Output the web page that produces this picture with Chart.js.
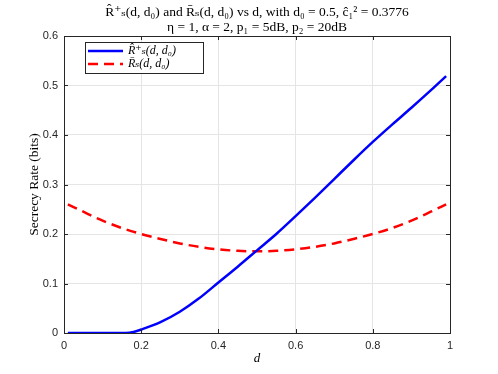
<!DOCTYPE html>
<html>
<head>
<meta charset="utf-8">
<script src="https://cdn.jsdelivr.net/npm/chart.js@4/dist/chart.umd.min.js"></script>
<style>
html,body{margin:0;padding:0;background:#fff;}
#c{display:block;}
</style>
</head>
<body>
<canvas id="c" width="498" height="374"></canvas>
<script>
const titleLines = ["R̂⁺ₛ(d, d₀) and R̄ₛ(d, d₀) vs d, with d₀ = 0.5, ĉ₁² = 0.3776", "η = 1, α = 2, p₁ = 5dB, p₂ = 20dB"];
const xTitle = "d";
const yTitle = "Secrecy Rate (bits)";
const seriesNames = ["R̂⁺ₛ(d, d₀)", "R̄ₛ(d, d₀)"];
const xTicks = [0, 0.2, 0.4, 0.6, 0.8, 1];
const yTicks = [0, 0.1, 0.2, 0.3, 0.4, 0.5, 0.6];

const dBlue = [0.01, 0.05, 0.1, 0.15, 0.16, 0.18, 0.2, 0.25, 0.3, 0.35, 0.4, 0.45, 0.5, 0.55, 0.6, 0.65, 0.7, 0.75, 0.8, 0.85, 0.9, 0.95, 0.99];
const rHatPlus = [0, 0, 0, 0, 0, 0.002, 0.007, 0.022, 0.043, 0.07, 0.102, 0.134, 0.167, 0.2, 0.236, 0.273, 0.311, 0.349, 0.386, 0.421, 0.455, 0.49, 0.519];
const dRed = [0.01, 0.05, 0.1, 0.15, 0.2, 0.25, 0.3, 0.35, 0.4, 0.45, 0.5, 0.55, 0.6, 0.65, 0.7, 0.75, 0.8, 0.85, 0.9, 0.95, 0.99];
const rBar = [0.26, 0.245, 0.227, 0.212, 0.2, 0.19, 0.181, 0.174, 0.169, 0.166, 0.165, 0.166, 0.169, 0.174, 0.181, 0.19, 0.2, 0.212, 0.227, 0.245, 0.26];

const axisColor = '#262626';
const serif = '"Liberation Serif", "DejaVu Serif", serif';
const sans = '"Liberation Sans", Arial, sans-serif';
const fmt = v => String(Math.round(v * 10) / 10);

const framePlugin = {
  id: 'frame',
  afterDraw(chart) {
    const ctx = chart.ctx, a = chart.chartArea;
    const xs = chart.scales.x, ys = chart.scales.y;
    ctx.save();
    ctx.strokeStyle = axisColor; ctx.lineWidth = 1;
    ctx.strokeRect(Math.round(a.left) + 0.5, Math.round(a.top) + 0.5, Math.round(a.right - a.left), Math.round(a.bottom - a.top));
    ctx.beginPath();
    xTicks.forEach(v => {
      const px = Math.round(xs.getPixelForValue(v)) + 0.5;
      ctx.moveTo(px, a.bottom); ctx.lineTo(px, a.bottom - 4);
      ctx.moveTo(px, a.top); ctx.lineTo(px, a.top + 4);
    });
    yTicks.forEach(v => {
      const py = Math.round(ys.getPixelForValue(v)) + 0.5;
      ctx.moveTo(a.left, py); ctx.lineTo(a.left + 4, py);
      ctx.moveTo(a.right, py); ctx.lineTo(a.right - 4, py);
    });
    ctx.stroke();
    // title
    ctx.fillStyle = '#000';
    ctx.textAlign = 'center'; ctx.textBaseline = 'middle';
    ctx.font = '13.5px ' + serif;
    const cx = (a.left + a.right) / 2;
    ctx.fillText(titleLines[0], cx, 12);
    ctx.fillText(titleLines[1], cx, 27);
    // legend
    const lx = a.left + 21, ly = a.top + 6, lw = 118, lh = 31;
    ctx.fillStyle = '#fff';
    ctx.fillRect(lx, ly, lw, lh);
    ctx.strokeStyle = axisColor; ctx.lineWidth = 1;
    ctx.strokeRect(lx + 0.5, ly + 0.5, lw, lh);
    chart.data.datasets.forEach((ds, i) => {
      const yy = ly + 9 + i * 13;
      ctx.beginPath();
      ctx.strokeStyle = ds.borderColor; ctx.lineWidth = ds.borderWidth;
      ctx.setLineDash(ds.borderDash || []);
      ctx.moveTo(lx + 3, yy); ctx.lineTo(lx + 38, yy);
      ctx.stroke();
      ctx.setLineDash([]);
      ctx.fillStyle = '#000'; ctx.textAlign = 'left';
      ctx.font = 'italic 12px ' + serif;
      ctx.fillText(ds.label, lx + 43, yy);
    });
    ctx.restore();
  }
};

new Chart(document.getElementById('c'), {
  type: 'line',
  data: {
    datasets: [
      { label: seriesNames[0], data: dBlue.map((d, i) => ({x: d, y: rHatPlus[i]})),
        borderColor: '#0000ff', borderWidth: 2.5, pointRadius: 0, fill: false, cubicInterpolationMode: 'monotone' },
      { label: seriesNames[1], data: dRed.map((d, i) => ({x: d, y: rBar[i]})),
        borderColor: '#ff0000', borderWidth: 2.5, borderDash: [10, 6], pointRadius: 0, fill: false, cubicInterpolationMode: 'monotone' }
    ]
  },
  options: {
    responsive: false,
    animation: false,
    layout: { padding: { left: 26, right: 48, top: 36, bottom: 0 } },
    plugins: { legend: { display: false }, title: { display: false }, tooltip: { enabled: false } },
    scales: {
      x: {
        type: 'linear', min: 0, max: 1,
        afterBuildTicks: s => { s.ticks = xTicks.map(v => ({value: v})); },
        afterFit: s => { s.height = 41; },
        grid: { color: '#e5e5e5', drawTicks: false },
        border: { display: false },
        ticks: { color: axisColor, font: { family: sans, size: 11 }, padding: 6, maxRotation: 0, callback: fmt },
        title: { display: true, text: xTitle, color: '#000', font: { family: serif, size: 13, style: 'italic' }, padding: { top: 0, bottom: 8 } }
      },
      y: {
        min: 0, max: 0.6,
        afterBuildTicks: s => { s.ticks = yTicks.map(v => ({value: v})); },
        afterFit: s => { s.width = 38; },
        grid: { color: '#e5e5e5', drawTicks: false },
        border: { display: false },
        ticks: { color: axisColor, font: { family: sans, size: 11 }, padding: 6, callback: fmt },
        title: { display: true, text: yTitle, color: '#000', font: { family: serif, size: 13.5 }, padding: { top: 0, bottom: 4 } }
      }
    }
  },
  plugins: [framePlugin]
});
</script>
</body>
</html>
